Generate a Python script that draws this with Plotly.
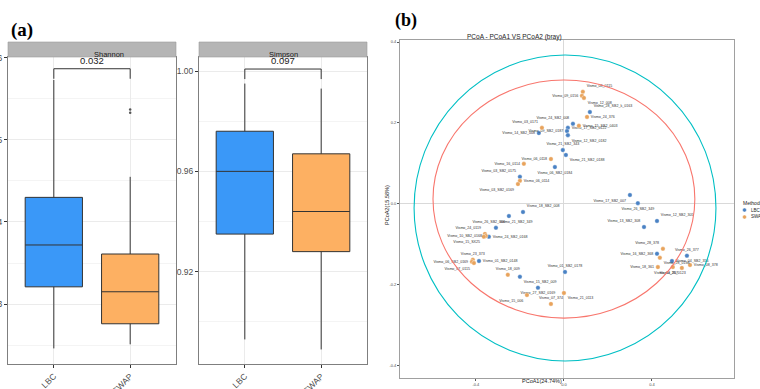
import plotly.graph_objects as go

W, H = 760, 389

def fx(p):
    return p / W

def fy(p):
    return 1 - p / H

# ---------------- data: alpha diversity ----------------
categories = ["LBC", "SWAP"]
shannon_low = [2.46, 2.51]
shannon_q1 = [3.21, 2.76]
shannon_median = [3.72, 3.15]
shannon_q3 = [4.30, 3.61]
shannon_high = [5.73, 4.55]
shannon_outliers_swap = [5.37, 5.33]
shannon_p = "0.032"
shannon_bracket = [5.745, 5.867]   # tick end, bracket top
shannon_ticks = [3, 4, 5, 6]

simpson_low = [0.893, 0.889]
simpson_q1 = [0.935, 0.928]
simpson_median = [0.960, 0.944]
simpson_q3 = [0.976, 0.967]
simpson_high = [0.995, 0.993]
simpson_p = "0.097"
simpson_bracket = [0.9968, 1.0008]
simpson_ticks = [0.92, 0.96, 1.00]

# ---------------- data: PCoA ----------------
pcoa_label = [
    "Vismo_08_0115", "Vismo_09_0156", "Vismo_12_008",
    "Vismo_28_SB2_k_0163", "Vismo_24_376", "Vismo_24_SB2_008", "Vismo_15_SB2_0403",
    "Vismo_17_SB2_0122", "Vismo_09_SB2_0187", "Vismo_12_SB2_0182",
    "Vismo_03_0171", "Vismo_14_SB2_008",
    "Vismo_21_SB2_343", "Vismo_21_SB2_0188", "Vismo_06_0118", "Vismo_06_SB2_0184",
    "Vismo_16_0114", "Vismo_03_SB2_0175", "Vismo_06_0114", "Vismo_03_SB2_0169",
    "Vismo_18_SB2_008", "Vismo_26_SB2_008", "Vismo_21_SB2_349", "Vismo_24_0119",
    "Vismo_10_SB2_0168", "Vismo_24_SB2_0168", "Vismo_15_SX25",
    "Vismo_23_373", "Vismo_06_SB2_0169", "Vismo_01_SB2_0148", "Vismo_07_0115",
    "Vismo_18_009", "Vismo_15_SB2_009", "Vismo_01_SB2_0178", "Vismo_27_SB2_0169",
    "Vismo_15_006", "Vismo_21_0113", "Vismo_07_374",
    "Vismo_17_SB2_007", "Vismo_26_SB2_349", "Vismo_12_SB2_305", "Vismo_13_SB2_308",
    "Vismo_28_378", "Vismo_16_SB2_368", "Vismo_28_0158", "Vismo_26_377",
    "Vismo_04_SB2_356", "Vismo_18_361", "Vismo_25_0123", "Vismo_08_378", "Vismo_13_367",
]
pcoa_group = [
    "SWAP", "SWAP", "SWAP",
    "LBC", "SWAP", "LBC", "SWAP",
    "LBC", "LBC", "LBC",
    "SWAP", "LBC",
    "LBC", "LBC", "SWAP", "LBC",
    "SWAP", "LBC", "SWAP", "SWAP",
    "LBC", "LBC", "LBC", "SWAP",
    "SWAP", "LBC", "SWAP",
    "SWAP", "SWAP", "LBC", "SWAP",
    "SWAP", "LBC", "LBC", "LBC",
    "SWAP", "SWAP", "SWAP",
    "LBC", "LBC", "LBC", "LBC",
    "SWAP", "LBC", "SWAP", "LBC",
    "LBC", "SWAP", "SWAP", "SWAP", "SWAP",
]
pcoa_x = [
    0.086, 0.082, 0.091,
    0.118, 0.105, 0.041, 0.068,
    0.018, 0.014, 0.018,
    -0.100, -0.114,
    -0.005, 0.009, -0.059, -0.041,
    -0.182, -0.200, -0.200, -0.209,
    -0.186, -0.250, -0.309, -0.359,
    -0.355, -0.341, -0.364,
    -0.414, -0.418, -0.386, -0.409,
    -0.255, -0.200, 0.005, -0.118,
    -0.168, 0.000, -0.059,
    0.300, 0.336, 0.423, 0.364,
    0.450, 0.423, 0.436, 0.559,
    0.491, 0.427, 0.495, 0.573, 0.536,
]
pcoa_y = [
    0.277, 0.267, 0.262,
    0.227, 0.215, 0.198, 0.193,
    0.188, 0.180, 0.170,
    0.188, 0.175,
    0.133, 0.121, 0.111, 0.091,
    0.099, 0.067, 0.057, 0.049,
    -0.020, -0.030, -0.059, -0.074,
    -0.079, -0.081, -0.081,
    -0.138, -0.143, -0.141, -0.146,
    -0.175, -0.180, -0.168, -0.207,
    -0.225, -0.220, -0.247,
    0.022, 0.002, -0.042, -0.057,
    -0.111, -0.123, -0.133, -0.128,
    -0.141, -0.156, -0.156, -0.151, -0.158,
]
label_positions = [
    "top right", "middle left", "bottom right",
    "top right", "middle right", "top left", "middle right",
    "middle right", "middle left", "bottom right",
    "top left", "middle left",
    "top center", "bottom right", "middle left", "bottom center",
    "middle left", "top left", "middle right", "bottom left",
    "top right", "bottom left", "top right", "top left",
    "middle left", "middle right", "bottom left",
    "top center", "middle left", "middle right", "bottom left",
    "top center", "bottom right", "top center", "bottom center",
    "bottom left", "bottom right", "top center",
    "bottom left", "bottom center", "top right", "top left",
    "top left", "middle left", "bottom right", "top center",
    "middle right", "middle left", "bottom center", "middle right", "bottom left",
]
pcoa_x_title = "PCoA1(24.74%)"
pcoa_y_title = "PCoA2(15.58%)"
pcoa_title = "PCoA - PCoA1 VS PCoA2 (bray)"
# confidence ellipses: centre x, centre y, radius x, radius y
ellipse_red = [0.0, 0.012, 0.595, 0.294]
ellipse_cyan = [0.005, -0.010, 0.686, 0.378]

# ---------------- styles ----------------
FILL = {"LBC": "#3A98F8", "SWAP": "#FDB062"}
PT = {"LBC": "#4A82C4", "SWAP": "#E8A35C"}
GRID = "#EBEBEB"
MINOR = "#F4F4F4"
BORDER = "#7F7F7F"
TXT = "#4D4D4D"
FONT = "Liberation Sans, Arial, sans-serif"

fig = go.Figure()

# Shannon boxes
for i, c in enumerate(categories):
    fig.add_trace(go.Box(
        x=[c], q1=[shannon_q1[i]], median=[shannon_median[i]], q3=[shannon_q3[i]],
        lowerfence=[shannon_low[i]], upperfence=[shannon_high[i]],
        fillcolor=FILL[c], line=dict(color="#333333", width=1), width=0.75,
        whiskerwidth=0, boxpoints=False, xaxis="x", yaxis="y", showlegend=False,
        hoverinfo="skip"))
fig.add_trace(go.Scatter(
    x=["SWAP"] * len(shannon_outliers_swap), y=shannon_outliers_swap, mode="markers",
    marker=dict(color="#555555", size=2.5), xaxis="x", yaxis="y", showlegend=False))
fig.add_trace(go.Scatter(
    x=["LBC", "LBC", "SWAP", "SWAP"],
    y=[shannon_bracket[0], shannon_bracket[1], shannon_bracket[1], shannon_bracket[0]],
    mode="lines", line=dict(color="#333333", width=1), xaxis="x", yaxis="y",
    showlegend=False))

# Simpson boxes
for i, c in enumerate(categories):
    fig.add_trace(go.Box(
        x=[c], q1=[simpson_q1[i]], median=[simpson_median[i]], q3=[simpson_q3[i]],
        lowerfence=[simpson_low[i]], upperfence=[simpson_high[i]],
        fillcolor=FILL[c], line=dict(color="#333333", width=1), width=0.75,
        whiskerwidth=0, boxpoints=False, xaxis="x2", yaxis="y2", showlegend=False,
        hoverinfo="skip"))
fig.add_trace(go.Scatter(
    x=["LBC", "LBC", "SWAP", "SWAP"],
    y=[simpson_bracket[0], simpson_bracket[1], simpson_bracket[1], simpson_bracket[0]],
    mode="lines", line=dict(color="#333333", width=1), xaxis="x2", yaxis="y2",
    showlegend=False))

# PCoA points
for g in categories:
    idx = [i for i, gg in enumerate(pcoa_group) if gg == g]
    fig.add_trace(go.Scatter(
        x=[pcoa_x[i] for i in idx], y=[pcoa_y[i] for i in idx],
        text=[pcoa_label[i] for i in idx],
        textposition=[label_positions[i] for i in idx],
        mode="markers+text",
        marker=dict(color=PT[g], size=4.5, line=dict(color="white", width=0.4)),
        textfont=dict(size=3.6, color="#333333", family=FONT),
        xaxis="x3", yaxis="y3", showlegend=False, name=g))

shapes = []
annotations = []

# strips
for (x0, x1, name) in [(8, 176, "Shannon"), (199, 367, "Simpson")]:
    shapes.append(dict(type="rect", xref="paper", yref="paper",
                       x0=fx(x0), x1=fx(x1), y0=fy(57), y1=fy(42),
                       fillcolor="#B5B5B5", line=dict(color="#9A9A9A", width=0.6)))
    annotations.append(dict(x=fx((x0 + x1) / 2), y=fy(48.5), xref="paper", yref="paper",
                            text=name, showarrow=False,
                            font=dict(size=7.5, color="#1A1A1A", family=FONT)))

# p-values
annotations.append(dict(x=0.5, y=shannon_bracket[1], xref="x", yref="y", text=shannon_p,
                        showarrow=False, yanchor="bottom", yshift=1,
                        font=dict(size=9.5, color="#1A1A1A", family=FONT)))
annotations.append(dict(x=0.5, y=simpson_bracket[1], xref="x2", yref="y2", text=simpson_p,
                        showarrow=False, yanchor="bottom", yshift=1,
                        font=dict(size=9.5, color="#1A1A1A", family=FONT)))

# ellipses
for e, col in [(ellipse_cyan, "#00BFC4"), (ellipse_red, "#F8766D")]:
    shapes.append(dict(type="circle", xref="x3", yref="y3",
                       x0=e[0] - e[2], x1=e[0] + e[2], y0=e[1] - e[3], y1=e[1] + e[3],
                       line=dict(color=col, width=1.1)))

# panel labels
annotations.append(dict(x=fx(9), y=fy(17), xref="paper", yref="paper", text="<b>(a)</b>",
                        showarrow=False, xanchor="left",
                        font=dict(size=19, color="black", family="Liberation Serif, serif")))
annotations.append(dict(x=fx(393), y=fy(8), xref="paper", yref="paper", text="<b>(b)</b>",
                        showarrow=False, xanchor="left",
                        font=dict(size=18, color="black", family="Liberation Serif, serif")))

# PCoA title and axis titles
annotations.append(dict(x=fx(564), y=fy(31), xref="paper", yref="paper", text=pcoa_title,
                        showarrow=False, font=dict(size=6.5, color="#222222", family=FONT)))
annotations.append(dict(x=fx(564), y=fy(386), xref="paper", yref="paper", text=pcoa_x_title,
                        showarrow=False, font=dict(size=5.5, color="#222222", family=FONT)))
annotations.append(dict(x=fx(387), y=fy(205), xref="paper", yref="paper", text=pcoa_y_title,
                        showarrow=False, textangle=-90,
                        font=dict(size=5.5, color="#222222", family=FONT)))

# manual legend
annotations.append(dict(x=fx(741), y=fy(203), xref="paper", yref="paper", text="Methods",
                        showarrow=False, xanchor="left",
                        font=dict(size=5, color="#222222", family=FONT)))
for k, (g, yy) in enumerate([("LBC", 210), ("SWAP", 217)]):
    shapes.append(dict(type="circle", xref="paper", yref="paper",
                       x0=fx(742.5), x1=fx(746.5), y0=fy(yy + 2), y1=fy(yy - 2),
                       fillcolor=PT[g], line=dict(color="white", width=0.4)))
    annotations.append(dict(x=fx(749), y=fy(yy), xref="paper", yref="paper", text=g,
                            showarrow=False, xanchor="left",
                            font=dict(size=4.5, color="#222222", family=FONT)))

cat_axis = dict(type="category", categoryorder="array", categoryarray=categories,
                range=[-0.6, 1.6], showgrid=True, gridcolor=GRID, gridwidth=1,
                tickangle=-45, ticks="outside", ticklen=3, tickcolor="#333333",
                tickfont=dict(size=8.5, color=TXT, family=FONT), automargin=False,
                showline=True, mirror=True, linecolor=BORDER, linewidth=1, zeroline=False)

fig.update_layout(
    template="none",
    width=W, height=H, margin=dict(l=0, r=0, t=0, b=0, pad=0), autosize=False,
    paper_bgcolor="white", plot_bgcolor="white", showlegend=False,
    font=dict(family=FONT),
    xaxis=dict(cat_axis, domain=[fx(8), fx(176)], anchor="y"),
    yaxis=dict(domain=[fy(364), fy(57)], anchor="x", range=[2.27, 6.01], automargin=False,
               tickvals=shannon_ticks, ticktext=[str(t) for t in shannon_ticks],
               showgrid=True, gridcolor=GRID, ticks="outside", ticklen=3,
               tickcolor="#333333", tickfont=dict(size=8.5, color=TXT, family=FONT),
               minor=dict(tickvals=[2.5, 3.5, 4.5, 5.5], showgrid=True, gridcolor=MINOR, ticks=""),
               showline=True, mirror=True, linecolor=BORDER, linewidth=1, zeroline=False),
    xaxis2=dict(cat_axis, domain=[fx(199), fx(367)], anchor="y2"),
    yaxis2=dict(domain=[fy(364), fy(57)], anchor="x2", range=[0.8832, 1.0056], automargin=False,
                tickvals=simpson_ticks, ticktext=["%.2f" % t for t in simpson_ticks],
                showgrid=True, gridcolor=GRID, ticks="outside", ticklen=3,
                tickcolor="#333333", tickfont=dict(size=8.5, color=TXT, family=FONT),
                minor=dict(tickvals=[0.90, 0.94, 0.98], showgrid=True, gridcolor=MINOR, ticks=""),
                showline=True, mirror=True, linecolor=BORDER, linewidth=1, zeroline=False),
    xaxis3=dict(domain=[fx(400), fx(734)], anchor="y3", range=[-0.745, 0.773], automargin=False,
                tickvals=[-0.4, 0.0, 0.4], ticktext=["-0.4", "0.0", "0.4"],
                showgrid=False, zeroline=True, zerolinecolor="#D9D9D9", zerolinewidth=0.8,
                ticks="outside", ticklen=2, tickcolor="#555555",
                tickfont=dict(size=4, color=TXT, family=FONT),
                showline=True, mirror=True, linecolor="#A0A0A0", linewidth=0.8),
    yaxis3=dict(domain=[fy(378), fy(40)], anchor="x3", range=[-0.43, 0.405], automargin=False,
                tickvals=[-0.4, -0.2, 0.0, 0.2, 0.4],
                ticktext=["-0.4", "-0.2", "0.0", "0.2", "0.4"],
                showgrid=False, zeroline=True, zerolinecolor="#D9D9D9", zerolinewidth=0.8,
                ticks="outside", ticklen=2, tickcolor="#555555",
                tickfont=dict(size=4, color=TXT, family=FONT),
                showline=True, mirror=True, linecolor="#A0A0A0", linewidth=0.8),
    shapes=shapes, annotations=annotations,
)

fig.write_html("out.html", config={"displayModeBar": False},
               post_script="document.body.style.margin='0';")
